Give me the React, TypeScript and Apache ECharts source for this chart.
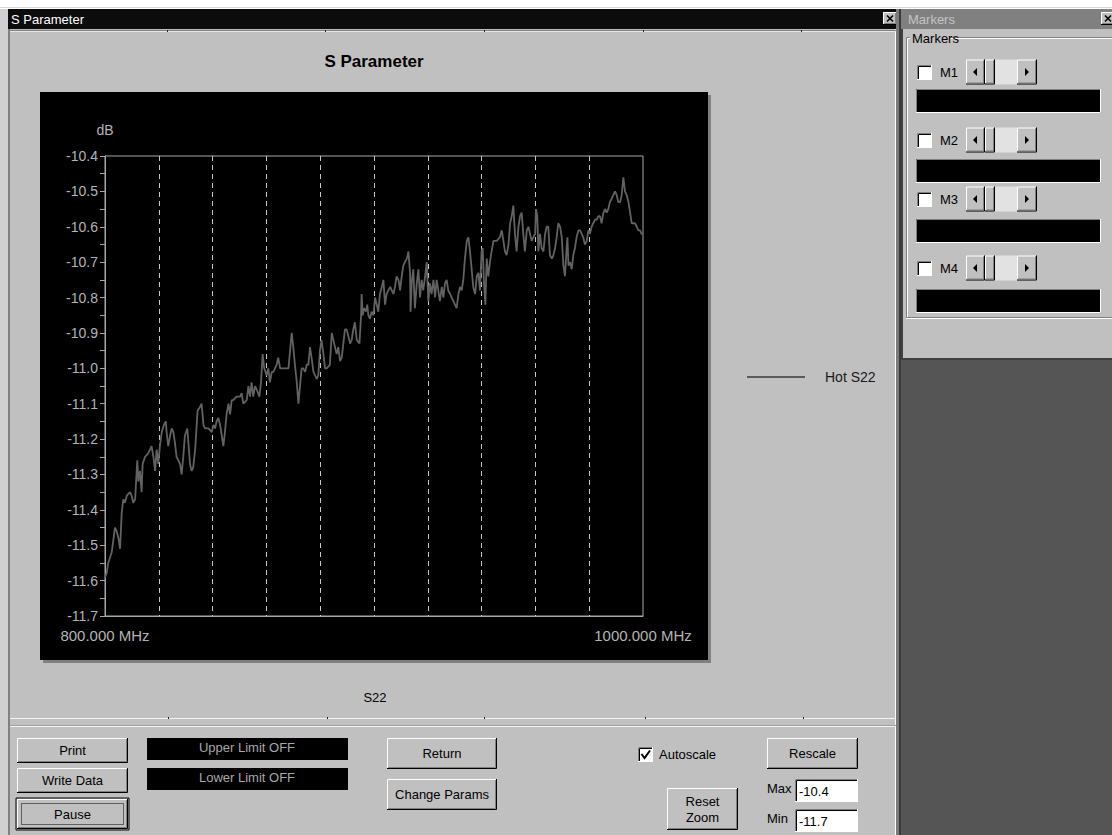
import React, { useEffect, useRef } from "react";
import * as echarts from "echarts";

// ---- data ----
const freqMHz = [
  800.0, 800.6, 801.2, 802.5, 803.7, 804.3, 805.0, 805.6, 806.2, 806.8,
  807.4, 808.1, 809.3, 809.9, 810.5, 811.2, 812.0, 812.4, 813.0, 813.6,
  814.0, 814.9, 816.1, 817.3, 818.0, 818.6, 819.2, 819.8, 820.4, 821.1,
  821.9, 822.6, 822.9, 823.5, 824.2, 824.8, 825.4, 826.0, 826.6, 827.9,
  828.5, 829.1, 829.7, 830.6, 831.0, 831.6, 832.2, 832.8, 833.5, 834.1,
  834.4, 835.3, 835.9, 836.6, 837.2, 838.4, 839.7, 840.3, 840.9, 841.5,
  842.1, 842.8, 843.4, 844.0, 844.6, 845.2, 845.9, 846.5, 847.1, 847.7,
  848.9, 850.2, 850.8, 851.4, 852.7, 853.3, 853.9, 854.5, 855.1, 855.8,
  856.4, 857.4, 858.0, 858.6, 859.2, 860.1, 860.7, 861.3, 862.0, 862.6,
  863.2, 863.8, 864.4, 865.1, 865.7, 866.9, 868.2, 868.8, 869.4, 870.0,
  870.6, 871.3, 871.9, 872.5, 873.1, 873.7, 874.4, 875.0, 875.6, 876.2,
  876.8, 877.5, 878.1, 878.7, 879.3, 879.9, 880.5, 881.2, 881.8, 882.4,
  883.6, 884.3, 884.9, 885.5, 886.1, 886.7, 887.4, 888.0, 888.6, 889.2,
  889.8, 890.5, 891.1, 891.7, 892.3, 892.9, 893.6, 894.6, 895.2,
  895.4, 895.8, 896.3, 897.0, 897.5, 897.9, 898.5, 899.1, 899.8, 900.4,
  901.0, 901.6, 902.2, 902.9, 903.5, 904.1, 904.7, 905.3, 906.0, 906.6,
  907.2, 907.8, 908.4, 909.1, 909.7, 910.3, 910.9, 911.5, 912.2, 912.8,
  913.4, 913.6, 914.0, 914.6, 915.2, 915.9, 916.5, 917.1, 917.7, 918.3,
  919.0, 919.6, 920.2, 920.8, 921.4, 922.1, 922.7, 923.3, 923.9, 924.5,
  925.2, 925.8, 926.4, 927.0, 927.6, 928.3, 928.9, 930.1, 930.7, 931.4,
  932.0, 932.6, 933.2, 933.8, 934.5, 935.1, 935.7, 936.3, 936.9, 937.6,
  938.2, 938.8, 939.4, 940.0, 940.4, 940.9, 941.4, 941.9, 942.5, 943.1,
  943.7, 944.4, 945.0, 945.6, 946.8, 947.5, 948.1, 948.7, 949.3, 950.0,
  950.6, 951.2, 951.8, 952.4, 953.0, 953.7, 954.3, 954.9, 955.5, 956.1,
  956.8, 957.4, 958.0, 958.6, 959.2, 959.9, 960.2, 960.7, 961.1, 961.7,
  962.3, 963.0, 963.6, 964.2, 964.8, 965.4, 966.1, 966.7, 967.3, 967.9,
  968.5, 969.2, 969.8, 970.4, 971.0, 971.6, 971.9, 972.3, 972.9, 973.5,
  974.1, 974.7, 975.3, 976.0, 976.6, 977.2, 977.8, 978.4, 979.1, 979.7,
  980.3, 980.9, 981.5, 982.2, 982.8, 983.4, 984.0, 984.6, 985.3, 985.9,
  986.5, 987.1, 987.7, 988.4, 989.0, 989.6, 990.2, 990.8, 991.5, 992.1,
  992.7, 993.3, 993.9, 994.6, 995.2, 995.8, 996.4, 997.0, 997.7, 998.3,
  998.9, 999.5, 1000.0,
];

const hotS22Db = [
  -11.59, -11.58, -11.55, -11.52, -11.45, -11.46, -11.48, -11.51, -11.41, -11.37,
  -11.38, -11.36, -11.35, -11.36, -11.38, -11.37, -11.26, -11.32, -11.29, -11.35,
  -11.27, -11.25, -11.24, -11.22, -11.25, -11.29, -11.23, -11.27, -11.22, -11.18,
  -11.16, -11.15, -11.18, -11.22, -11.19, -11.17, -11.18, -11.21, -11.25, -11.27,
  -11.30, -11.25, -11.19, -11.17, -11.21, -11.27, -11.29, -11.28, -11.23, -11.16,
  -11.12, -11.11, -11.10, -11.16, -11.17, -11.17, -11.18, -11.16, -11.17, -11.15,
  -11.14, -11.16, -11.19, -11.22, -11.18, -11.13, -11.10, -11.13, -11.09, -11.09,
  -11.08, -11.08, -11.07, -11.10, -11.09, -11.05, -11.08, -11.04, -11.08, -11.05,
  -11.06, -11.08, -11.04, -10.96, -11.00, -11.02, -11.00, -11.04, -11.01, -11.01,
  -11.00, -10.99, -10.97, -11.00, -11.00, -11.00, -11.00, -10.95, -10.90, -10.94,
  -10.99, -11.04, -11.10, -11.05, -11.00, -11.00, -11.01, -10.99, -10.99, -10.94,
  -10.97, -11.01, -11.02, -11.03, -11.02, -10.95, -10.92, -10.96, -11.00, -11.00,
  -10.99, -10.90, -10.92, -10.94, -10.96, -10.94, -10.98, -10.97, -10.93, -10.89,
  -10.89, -10.91, -10.93, -10.92, -10.89, -10.87, -10.92, -10.93, -10.85,
  -10.79, -10.85, -10.83, -10.84, -10.82, -10.85, -10.86, -10.84, -10.85, -10.80,
  -10.82, -10.84, -10.79, -10.77, -10.75, -10.82, -10.79, -10.78, -10.77, -10.78,
  -10.79, -10.77, -10.74, -10.75, -10.78, -10.74, -10.71, -10.70, -10.69, -10.67,
  -10.73, -10.84, -10.76, -10.72, -10.83, -10.76, -10.72, -10.80, -10.75, -10.78,
  -10.74, -10.70, -10.81, -10.76, -10.79, -10.75, -10.80, -10.75, -10.78, -10.81,
  -10.77, -10.80, -10.76, -10.75, -10.78, -10.79, -10.80, -10.82, -10.83, -10.79,
  -10.77, -10.78, -10.75, -10.69, -10.64, -10.63, -10.67, -10.72, -10.77, -10.79,
  -10.74, -10.73, -10.78, -10.67, -10.66, -10.76, -10.82, -10.69, -10.74, -10.70,
  -10.67, -10.64, -10.64, -10.64, -10.63, -10.61, -10.64, -10.67, -10.68, -10.65,
  -10.59, -10.57, -10.54, -10.62, -10.67, -10.60, -10.57, -10.56, -10.62, -10.67,
  -10.61, -10.60, -10.62, -10.64, -10.63, -10.62, -10.55, -10.57, -10.67, -10.62,
  -10.66, -10.67, -10.62, -10.60, -10.60, -10.68, -10.69, -10.68, -10.66, -10.63,
  -10.59, -10.60, -10.63, -10.71, -10.74, -10.66, -10.63, -10.71, -10.70, -10.72,
  -10.68, -10.66, -10.63, -10.61, -10.61, -10.62, -10.63, -10.65, -10.64, -10.61,
  -10.62, -10.60, -10.59, -10.58, -10.58, -10.57, -10.57, -10.59, -10.56, -10.55,
  -10.56, -10.55, -10.53, -10.52, -10.51, -10.50, -10.51, -10.53, -10.53, -10.51,
  -10.46, -10.50, -10.51, -10.53, -10.56, -10.59, -10.59, -10.59, -10.60, -10.61,
  -10.61, -10.62, -10.62,
];

const seriesName = "Hot S22";
const chartTitle = "S Parameter";
const xMin = 800;
const xMax = 1000;
const yMin = -11.7;
const yMax = -10.4;
const markerNames = ["M1", "M2", "M3", "M4"];
const maxField = "-10.4";
const minField = "-11.7";

// ---- drawing helpers ----
const FONT = "'Liberation Sans', Arial, Helvetica, sans-serif";

function ln(points: number[][], stroke: string, lineWidth = 1): any {
  return { type: "polyline", shape: { points }, style: { stroke, lineWidth, fill: null } };
}
function rc(x: number, y: number, w: number, h: number, fill: string, extra: any = {}): any {
  return { type: "rect", shape: { x, y, width: w, height: h }, style: { fill, ...extra } };
}
function tx(x: number, y: number, t: string, o: any = {}): any {
  const size = o.size || 13;
  const align = o.align || "left";
  const va = o.va || "middle";
  return {
    type: "text",
    x,
    y,
    style: {
      text: t,
      fill: o.color || "#000000",
      font: `${o.weight || "normal"} ${size}px ${FONT}`,
      textAlign: align,
      textVerticalAlign: va,
      align,
      verticalAlign: va,
    },
  };
}
function raised(x: number, y: number, w: number, h: number): any[] {
  return [
    rc(x, y, w, h, "#c0c0c0"),
    ln([[x + 0.5, y + h - 1], [x + 0.5, y + 0.5], [x + w - 1, y + 0.5]], "#ffffff"),
    ln([[x + w - 0.5, y], [x + w - 0.5, y + h - 0.5], [x, y + h - 0.5]], "#000000"),
    ln([[x + w - 1.5, y + 1], [x + w - 1.5, y + h - 1.5], [x + 1, y + h - 1.5]], "#808080"),
  ];
}
function sunken(x: number, y: number, w: number, h: number, fill: string): any[] {
  return [
    rc(x, y, w, h, fill),
    ln([[x + 0.5, y + h], [x + 0.5, y + 0.5], [x + w, y + 0.5]], "#808080"),
    ln([[x + 1.5, y + h - 1], [x + 1.5, y + 1.5], [x + w - 1, y + 1.5]], "#000000"),
    ln([[x + w - 0.5, y], [x + w - 0.5, y + h - 0.5], [x, y + h - 0.5]], "#ffffff"),
  ];
}
function button(x: number, y: number, w: number, h: number, label: string): any[] {
  return [...raised(x, y, w, h), tx(x + w / 2, y + h / 2, label, { align: "center" })];
}
function scrollbar(x: number, y: number): any[] {
  const h = 25;
  return [
    rc(x + 29, y, 22, h, "#e2e2e2"),
    ...raised(x, y, 19, h),
    { type: "polygon", shape: { points: [[x + 7, y + 12.5], [x + 11, y + 8.5], [x + 11, y + 16.5]] }, style: { fill: "#000" } },
    ...raised(x + 19, y, 10, h),
    ...raised(x + 51, y, 20, h),
    { type: "polygon", shape: { points: [[x + 63, y + 12.5], [x + 59, y + 8.5], [x + 59, y + 16.5]] }, style: { fill: "#000" } },
  ];
}
function closeBtn(x: number, y: number): any[] {
  return [
    ...raised(x, y, 14, 13),
    ln([[x + 4, y + 3.5], [x + 10, y + 9.5]], "#000", 1.6),
    ln([[x + 10, y + 3.5], [x + 4, y + 9.5]], "#000", 1.6),
  ];
}

function buildGraphic(): any[] {
  const g: any[] = [];
  // page base
  g.push(rc(0, 0, 1112, 835, "#c0c0c0"));
  g.push(rc(0, 0, 1112, 9, "#ffffff"));
  g.push(ln([[0, 7.5], [1112, 7.5]], "#d8d8d8"));
  g.push(rc(0, 9, 8, 826, "#d0d0d0"));
  // main window title bar
  g.push(rc(8, 9, 891, 20, "#0c0c0c"));
  g.push(tx(11, 19, chartTitle, { color: "#ffffff", size: 13 }));
  g.push(...closeBtn(883, 12));
  // main window borders
  g.push(rc(8, 29, 2, 806, "#808080"));
  g.push(ln([[895.5, 29], [895.5, 835]], "#ffffff"));
  g.push(rc(896, 9, 4, 826, "#7a7a7a"));
  g.push(rc(899, 9, 2, 826, "#3a3a3a"));
  // top separator
  g.push(ln([[10, 30.5], [896, 30.5]], "#808080"));
  g.push(ln([[10, 31.5], [896, 31.5]], "#e8e8e8"));
  [167, 325, 484, 643, 801].forEach((x) => g.push(rc(x, 30, 1, 2, "#202020")));
  // plot panel with shadow
  g.push(rc(43, 95, 668, 568, "#808080"));
  g.push(rc(40, 92, 668, 568, "#000000"));
  // S22 footer text
  g.push(tx(375, 697, "S22", { size: 13, align: "center" }));
  // bottom separators
  g.push(ln([[10, 718.5], [896, 718.5]], "#f4f4f4"));
  [168, 327, 484, 645, 803].forEach((x) => g.push(rc(x, 717, 1, 2, "#202020")));
  g.push(ln([[10, 725.5], [896, 725.5]], "#a0a0a0"));
  g.push(ln([[10, 726.5], [896, 726.5]], "#f4f4f4"));

  // bottom panel controls
  g.push(...button(17, 738, 111, 25, "Print"));
  g.push(...button(17, 768, 111, 25, "Write Data"));
  g.push(rc(16, 798, 113, 32, "none", { stroke: "#000", lineWidth: 1 }));
  g.push(...button(17, 799, 111, 30, "Pause"));
  g.push(rc(21.5, 803.5, 102, 21, "none", { stroke: "#000", lineWidth: 1, lineDash: [1, 1] }));
  g.push(rc(147, 738, 201, 22, "#000000"));
  g.push(tx(247, 747, "Upper Limit OFF", { color: "#a8a8a8", align: "center" }));
  g.push(rc(147, 768, 201, 22, "#000000"));
  g.push(tx(247, 777, "Lower Limit OFF", { color: "#a8a8a8", align: "center" }));
  g.push(...button(387, 738, 110, 31, "Return"));
  g.push(...button(387, 779, 110, 31, "Change Params"));
  g.push(...sunken(638, 747, 15, 15, "#ffffff"));
  g.push(ln([[641.5, 754], [644.5, 758], [650, 750.5]], "#000", 2));
  g.push(tx(659, 754.5, "Autoscale"));
  g.push(...button(767, 738, 91, 31, "Rescale"));
  g.push(...raised(667, 788, 71, 42));
  g.push(tx(702.5, 801, "Reset", { align: "center" }));
  g.push(tx(702.5, 817, "Zoom", { align: "center" }));
  g.push(tx(767, 788, "Max"));
  g.push(...sunken(795, 779, 63, 23, "#ffffff"));
  g.push(tx(799, 791, maxField));
  g.push(tx(767, 818, "Min"));
  g.push(...sunken(795, 809, 63, 23, "#ffffff"));
  g.push(tx(799, 821, minField));

  // markers window
  g.push(rc(901, 9, 211, 20, "#808080"));
  g.push(tx(908, 19, "Markers", { color: "#c4c4c4", size: 13 }));
  g.push(...closeBtn(1101, 12));
  g.push(rc(901, 29, 2, 333, "#404040"));
  // group box
  g.push(ln([[906.5, 318], [906.5, 37.5], [1112, 37.5]], "#808080"));
  g.push(ln([[907.5, 318], [907.5, 38.5], [1112, 38.5]], "#ffffff"));
  g.push(ln([[906, 317.5], [1112, 317.5]], "#808080"));
  g.push(ln([[906, 318.5], [1112, 318.5]], "#ffffff"));
  g.push(rc(910, 30, 40, 16, "#c0c0c0"));
  g.push(tx(912, 38, "Markers"));
  const rows = [
    { cy: 72, box: 89 },
    { cy: 140, box: 159 },
    { cy: 199, box: 219 },
    { cy: 268, box: 289 },
  ];
  rows.forEach((r, i) => {
    g.push(...sunken(917, r.cy - 7, 15, 15, "#ffffff"));
    g.push(tx(940, r.cy, markerNames[i]));
    g.push(...scrollbar(966, r.cy - 12.5));
    g.push(...sunken(916, r.box, 185, 24, "#000000"));
  });
  // dark desktop area below markers
  g.push(rc(901, 360, 211, 475, "#555555"));
  g.push(rc(901, 358, 211, 2, "#404040"));
  return g;
}

export default function App() {
  const ref = useRef<HTMLDivElement>(null);
  useEffect(() => {
    if (!ref.current) return;
    const chart = echarts.init(ref.current, undefined, { renderer: "svg" });
    const data = freqMHz.map((f, i) => [f, hotS22Db[i]]);
    const axisGray = "#a8a8a8";
    const labelGray = "#b4b4b4";
    const traceColor = "#626262";
    chart.setOption({
      animation: false,
      backgroundColor: "#c0c0c0",
      graphic: { elements: buildGraphic() },
      title: {
        text: chartTitle,
        left: 374,
        top: 53,
        textAlign: "center",
        padding: 0,
        textStyle: { fontSize: 17, fontWeight: "bold", color: "#000", fontFamily: FONT },
        z: 6,
      },
      legend: {
        left: 742,
        top: 365,
        icon: "rect",
        itemWidth: 58,
        itemHeight: 2,
        data: [seriesName],
        itemStyle: { color: "#5a5a5a" },
        textStyle: { color: "#1a1a1a", fontSize: 14, fontFamily: FONT, padding: [0, 0, 0, 15] },
        z: 6,
      },
      grid: {
        left: 105,
        top: 156,
        width: 538,
        height: 460,
        show: true,
        borderColor: axisGray,
        borderWidth: 1,
        backgroundColor: "transparent",
        containLabel: false,
        outerBoundsMode: "none",
        z: 3,
      },
      xAxis: {
        type: "value",
        min: xMin,
        max: xMax,
        interval: 20,
        z: 4,
        axisLine: { show: true, lineStyle: { color: axisGray, width: 1 } },
        axisTick: { show: false },
        splitLine: {
          show: true,
          showMinLine: false,
          showMaxLine: false,
          lineStyle: { color: "#c8c8c8", width: 1, type: [5, 4] },
        },
        axisLabel: {
          show: true,
          showMinLabel: true,
          showMaxLabel: true,
          margin: 12,
          color: labelGray,
          fontSize: 15,
          fontFamily: FONT,
          formatter: (v: number) =>
            v === xMin ? "800.000 MHz" : v === xMax ? "1000.000 MHz" : "",
        },
      },
      yAxis: {
        type: "value",
        min: yMin,
        max: yMax,
        interval: 0.1,
        z: 4,
        name: "dB",
        nameLocation: "end",
        nameGap: 26,
        nameTextStyle: { color: labelGray, fontSize: 14, fontFamily: FONT, align: "center", verticalAlign: "middle" },
        axisLine: { show: true, lineStyle: { color: axisGray, width: 1 } },
        axisTick: { show: true, length: 5, lineStyle: { color: axisGray } },
        minorTick: { show: true, splitNumber: 2, length: 5, lineStyle: { color: axisGray } },
        splitLine: { show: false },
        axisLabel: {
          margin: 7,
          color: labelGray,
          fontSize: 14,
          fontFamily: FONT,
          formatter: (v: number) => v.toFixed(1),
        },
      },
      series: [
        {
          type: "line",
          name: seriesName,
          data,
          symbol: "none",
          showSymbol: false,
          z: 5,
          lineStyle: { color: traceColor, width: 1.8 },
          itemStyle: { color: traceColor },
        },
      ],
    });
    return () => chart.dispose();
  }, []);
  return (
    <div
      ref={ref}
      style={{ position: "fixed", left: 0, top: 0, width: 1112, height: 835 }}
    />
  );
}
